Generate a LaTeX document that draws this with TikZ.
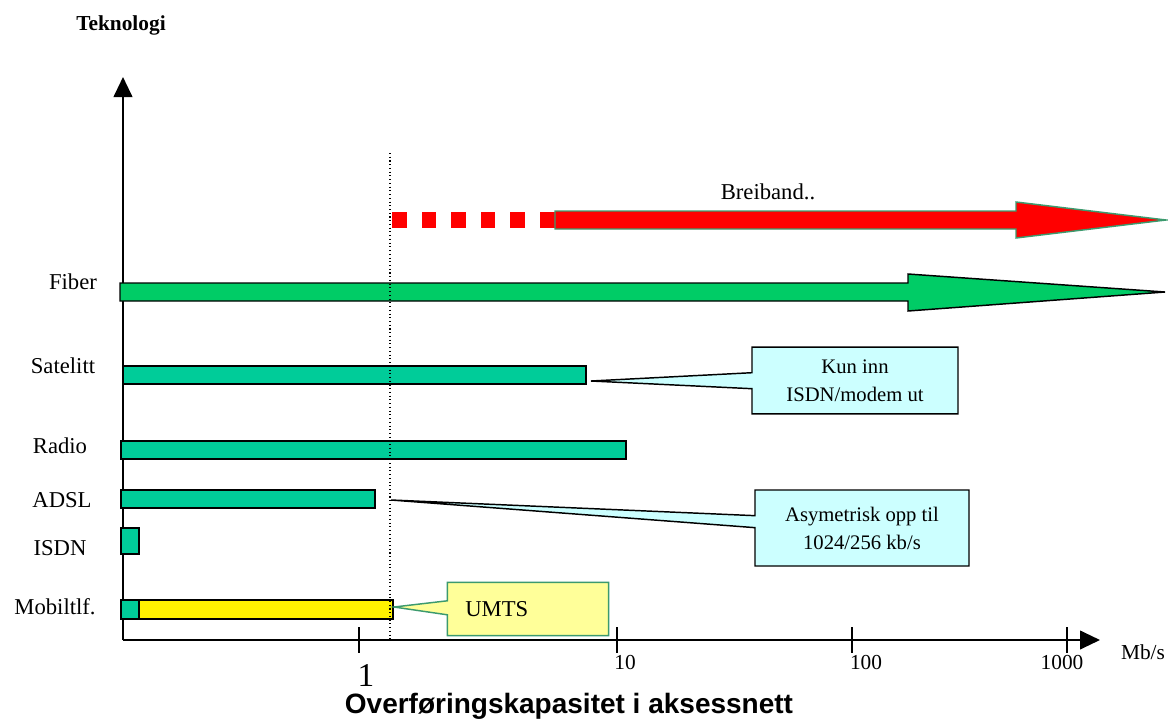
\documentclass[tikz,border=0pt]{standalone}
\usepackage{fontspec}
\setmainfont{Liberation Serif}
\setsansfont{Liberation Sans}
\usetikzlibrary{arrows.meta,shapes.callouts}
\definecolor{barteal}{RGB}{0,204,153}
\definecolor{fibergreen}{RGB}{0,204,102}
\definecolor{notecyan}{RGB}{204,255,255}
\definecolor{noteyellow}{RGB}{255,255,153}
\definecolor{edgegreen}{RGB}{60,154,110}

\begin{document}
\begin{tikzpicture}[x=0.75pt,y=-0.75pt,
  bar/.style={draw=black,line width=1.1pt,fill=barteal},
  lbl/.style={font=\fontsize{17}{20}\selectfont},
  ticklbl/.style={font=\fontsize{16}{19}\selectfont},
  note/.style={rectangle callout,draw=black,line width=1.1pt,fill=notecyan,
    align=center,inner sep=0pt,font=\fontsize{15.5}{21}\selectfont},
  axis/.style={line width=1.5pt,-{Triangle[length=15pt,width=14pt]}}]
  \useasboundingbox (0,0) rectangle (1168,726);

  % Axes
  \coordinate (o) at (123,640);
  \coordinate (ytop) at (123,77);
  \coordinate (xend) at (1100,640);
  \draw[axis] (o) -- (ytop);
  \draw[axis] (o) -- (xend);
  \foreach \x in {359,617,852,1067}
    \draw[line width=1.5pt] (\x,627) -- (\x,653);

  % Axis labels
  \node[font=\bfseries\fontsize{16}{19}\selectfont] (tek) at (121,25) {Teknologi};
  \node[ticklbl] (mbs) at (1143,652) {Mb/s};
  \node[font=\fontsize{25}{28}\selectfont] (one) at (366,675) {1};
  \node[ticklbl] (ten) at (625,662) {10};
  \node[ticklbl] (hundred) at (866,662) {100};
  \node[ticklbl] (thousand) at (1062,662) {1000};
  \node[font=\sffamily\bfseries\fontsize{21}{25}\selectfont] (title) at (569,706)
    {Overføringskapasitet i aksessnett};

  % Technology names
  \node[lbl] (fiber) at (73,282) {Fiber};
  \node[lbl] (sat) at (63,366) {Satelitt};
  \node[lbl] (radio) at (60,446) {Radio};
  \node[lbl] (adsl) at (62,500) {ADSL};
  \node[lbl] (isdn) at (60,548) {ISDN};
  \node[lbl] (mobil) at (55,607) {Mobiltlf.};

  % Broadband arrow, dashed start
  \foreach \x in {392,421.6,...,541}
    \fill[red] (\x,212) rectangle (\x+14.5,228);
  \draw[draw=edgegreen,line width=1.1pt,fill=red]
    (555,211) -- (1016,211) -- (1016,202) -- (1166,220) -- (1016,238)
    -- (1016,229) -- (555,229) -- cycle;
  \node[lbl] (breiband) at (768,192) {Breiband..};

  % Fiber arrow
  \draw[line width=1.1pt,fill=fibergreen]
    (120,283) -- (908,283) -- (908,274) -- (1165,292) -- (908,311)
    -- (908,301) -- (120,301) -- cycle;

  % Bars
  \draw[bar] (123,366) rectangle (586,384);
  \draw[bar] (121,441) rectangle (626,459);
  \draw[bar] (121,490) rectangle (375,508);
  \draw[bar] (121,528) rectangle (139,554);
  \draw[bar] (121,600) rectangle (139,619);
  \draw[bar,fill=yellow] (139,600) rectangle (393,619);

  % 1 Mb/s mark
  \draw[dotted,line width=0.8pt] (390,153) -- (o -| 390,0);

  % Notes
  \coordinate (satnote) at (591,381);
  \coordinate (adslnote) at (391,500);
  \coordinate (umtsnote) at (394,607);
  \node[note,callout absolute pointer={(satnote)},callout pointer width=12pt,
    minimum width=154.5pt,minimum height=50pt] (kun) at (855,380.5)
    {Kun inn\\ISDN/modem ut};
  \node[note,callout absolute pointer={(adslnote)},callout pointer width=9pt,
    minimum width=160.5pt,minimum height=57pt] (asym) at (862,528)
    {Asymetrisk opp til\\1024/256 kb/s};
  \node[note,draw=edgegreen,fill=noteyellow,callout absolute pointer={(umtsnote)},
    callout pointer width=10.5pt,align=left,inner xsep=13.5pt,text width=94pt,
    minimum height=40pt,font=\fontsize{17}{20}\selectfont] (umts) at (528,609)
    {UMTS};
\end{tikzpicture}
\end{document}
